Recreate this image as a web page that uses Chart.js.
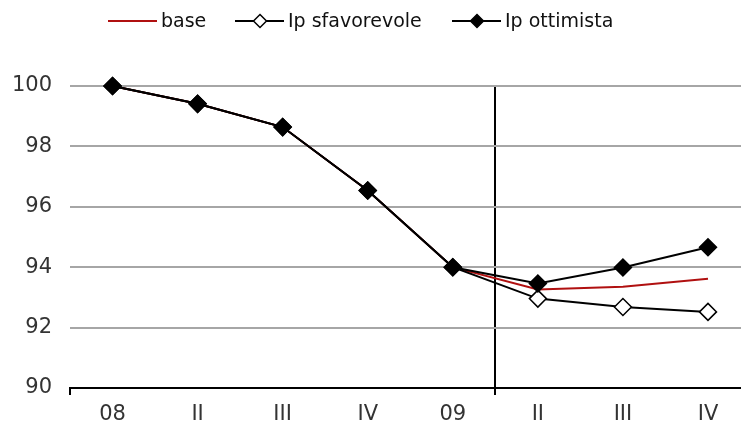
<!DOCTYPE html>
<html>
<head>
<meta charset="utf-8">
<script src="https://cdn.jsdelivr.net/npm/chart.js@4"></script>
<style>
  html, body { margin: 0; padding: 0; background: #fff; }
  #wrap { width: 741px; height: 430px; }
</style>
</head>
<body>
<div id="wrap"><canvas id="chart" width="741" height="430"></canvas></div>
<script>
const categorie = ['08', 'II', 'III', 'IV', '09', 'II', 'III', 'IV'];
const base = [100, 99.41, 98.64, 96.54, 94.0, 93.26, 93.35, 93.62];
const sfavorevole = [100, 99.41, 98.64, 96.54, 94.0, 92.96, 92.68, 92.52];
const ottimista = [100, 99.41, 98.64, 96.54, 94.0, 93.46, 93.99, 94.66];
const yTicks = [90, 92, 94, 96, 98, 100];

const toPoints = arr => arr.map((v, i) => ({ x: i, y: v }));

// legenda disegnata a mano: linea + rombo come nell'originale
const legendaPlugin = {
  id: 'legenda',
  afterDraw(chart) {
    const ctx = chart.ctx;
    const y = 21;
    const items = [
      { x: 108, text: 'base', color: '#b01010', marker: null },
      { x: 235, text: 'Ip sfavorevole', color: '#000', marker: 'open' },
      { x: 452, text: 'Ip ottimista', color: '#000', marker: 'full' }
    ];
    ctx.save();
    ctx.font = '19px "DejaVu Sans"';
    ctx.textBaseline = 'middle';
    items.forEach(it => {
      ctx.strokeStyle = it.color;
      ctx.lineWidth = 2;
      ctx.beginPath();
      ctx.moveTo(it.x, y);
      ctx.lineTo(it.x + 49, y);
      ctx.stroke();
      if (it.marker) {
        const cx = it.x + 25, r = 6.5;
        ctx.beginPath();
        ctx.moveTo(cx, y - r);
        ctx.lineTo(cx + r, y);
        ctx.lineTo(cx, y + r);
        ctx.lineTo(cx - r, y);
        ctx.closePath();
        ctx.fillStyle = it.marker === 'full' ? '#000' : '#fff';
        ctx.fill();
        ctx.lineWidth = 1.5;
        ctx.strokeStyle = '#000';
        ctx.stroke();
      }
      ctx.fillStyle = '#111';
      ctx.fillText(it.text, it.x + 53, y + 1);
    });
    ctx.restore();
  }
};

new Chart(document.getElementById('chart'), {
  type: 'line',
  data: {
    datasets: [
      {
        label: 'base',
        data: toPoints(base),
        borderColor: '#b01010',
        borderWidth: 2,
        pointRadius: 0,
        clip: false,
        order: 2
      },
      {
        label: 'Ip sfavorevole',
        data: toPoints(sfavorevole),
        borderColor: '#000',
        borderWidth: 2,
        pointStyle: 'rectRot',
        pointRadius: 8.5,
        pointBorderWidth: 1.5,
        pointBackgroundColor: '#fff',
        pointBorderColor: '#000',
        clip: false,
        order: 1
      },
      {
        label: 'Ip ottimista',
        data: toPoints(ottimista),
        borderColor: '#000',
        borderWidth: 2,
        pointStyle: 'rectRot',
        pointRadius: 8.5,
        pointBorderWidth: 1.5,
        pointBackgroundColor: '#000',
        pointBorderColor: '#000',
        clip: false,
        order: 0
      }
    ]
  },
  options: {
    responsive: false,
    animation: false,
    layout: { autoPadding: false, padding: { top: 86, left: 0, right: 0, bottom: 0 } },
    plugins: { legend: { display: false }, tooltip: { enabled: false } },
    scales: {
      x: {
        type: 'linear',
        min: -0.5,
        max: 7.388,
        afterBuildTicks: scale => {
          scale.ticks = [-0.5, 0, 1, 2, 3, 4, 4.5, 5, 6, 7].map(v => ({ value: v }));
        },
        afterFit: scale => {
          scale.height = 42;
          scale.paddingLeft = 0;
          scale.paddingRight = 0;
        },
        ticks: {
          autoSkip: false,
          maxRotation: 0,
          padding: 7,
          color: '#333',
          font: { family: 'DejaVu Sans', size: 21 },
          callback: v => Number.isInteger(v) ? categorie[v] : ''
        },
        grid: {
          lineWidth: 2,
          tickLength: 7,
          color: c => c.tick && c.tick.value === 4.5 ? '#000' : 'rgba(0,0,0,0)',
          tickColor: c => c.tick && (c.tick.value === 4.5 || c.tick.value === -0.5) ? '#000' : 'rgba(0,0,0,0)'
        },
        border: { display: true, color: '#000', width: 2 }
      },
      y: {
        min: 90,
        max: 100,
        afterBuildTicks: scale => {
          scale.ticks = yTicks.map(v => ({ value: v }));
        },
        afterFit: scale => { scale.width = 70; },
        ticks: {
          padding: 18,
          color: '#333',
          font: { family: 'DejaVu Sans', size: 21 }
        },
        grid: {
          drawTicks: false,
          lineWidth: 2,
          color: c => c.tick && c.tick.value === 90 ? '#000' : '#a6a6a6'
        },
        border: { display: false }
      }
    }
  },
  plugins: [legendaPlugin]
});
</script>
</body>
</html>
